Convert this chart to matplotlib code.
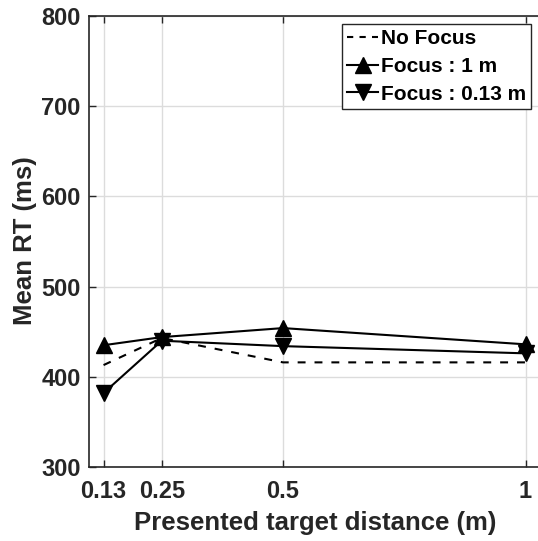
import matplotlib
matplotlib.use("Agg")
import matplotlib.pyplot as plt

# Presented target distance (m) and mean reaction times (ms)
distances = [0.13, 0.25, 0.5, 1.0]
tick_labels = ["0.13", "0.25", "0.5", "1"]
rt_no_focus = [413, 443, 416, 416]
rt_focus_1m = [435, 444, 454, 436]
rt_focus_013m = [382, 440, 434, 426]

plt.rcParams["font.family"] = ["Liberation Sans", "DejaVu Sans"]
plt.rcParams["font.weight"] = "bold"

W, H = 538, 541
fig = plt.figure(figsize=(W / 100, H / 100), dpi=100)

# x range 0.1 .. 1.1 spans 485 px; right part runs past the canvas edge
ax_left, ax_bottom = 89 / W, 1 - 467 / H
ax_w, ax_h = 485 / W, 451 / H
ax = fig.add_axes([ax_left, ax_bottom, ax_w, ax_h])

ax.plot(distances, rt_no_focus, "k--", lw=1.5, dashes=(3.8, 4.3), label="No Focus")
ax.plot(distances, rt_focus_1m, "k-", lw=1.5, marker="^", ms=12, label="Focus : 1 m")
ax.plot(distances, rt_focus_013m, "k-", lw=1.5, marker="v", ms=12, label="Focus : 0.13 m")

ax.set_xlim(0.1, 1.1)
ax.set_ylim(300, 800)
ax.set_xticks(distances)
ax.set_xticklabels(tick_labels)
ax.set_yticks([300, 400, 500, 600, 700, 800])

ax.grid(True, color="#dcdcdc", lw=1.0)
ax.set_axisbelow(True)
for s in ax.spines.values():
    s.set_color("#262626")
    s.set_linewidth(1.2)
ax.tick_params(direction="in", length=5, width=1.0, color="#262626",
               labelsize=17, labelcolor="#262626", top=True, right=True)
ax.tick_params(axis="y", pad=6)
ax.tick_params(axis="x", pad=9)
for lbl in ax.get_xticklabels() + ax.get_yticklabels():
    lbl.set_fontweight("bold")

ax.set_xlabel("Presented target distance (m)", fontsize=18.5, fontweight="bold",
              color="#262626")
ax.xaxis.set_label_coords(315 / W, 1 - 511 / H, transform=fig.transFigure)
ax.set_ylabel("Mean RT (ms)", fontsize=18.5, fontweight="bold", color="#262626")
ax.yaxis.set_label_coords(37 / W, 1 - 241 / H, transform=fig.transFigure)

leg = ax.legend(loc="upper left", bbox_to_anchor=(342 / W, 1 - 24 / H),
                bbox_transform=fig.transFigure, borderaxespad=0,
                frameon=True, fancybox=False, framealpha=1,
                handlelength=1.5, handletextpad=0.12, borderpad=0.25,
                labelspacing=0.42, prop={"weight": "bold", "size": 15})
leg.get_frame().set_edgecolor("#262626")
leg.get_frame().set_linewidth(1.0)
for h in leg.legend_handles:
    h.set_markersize(12)
leg.legend_handles[0].set_dashes((3.0, 3.0))

fig.savefig("out.png", dpi=100)
